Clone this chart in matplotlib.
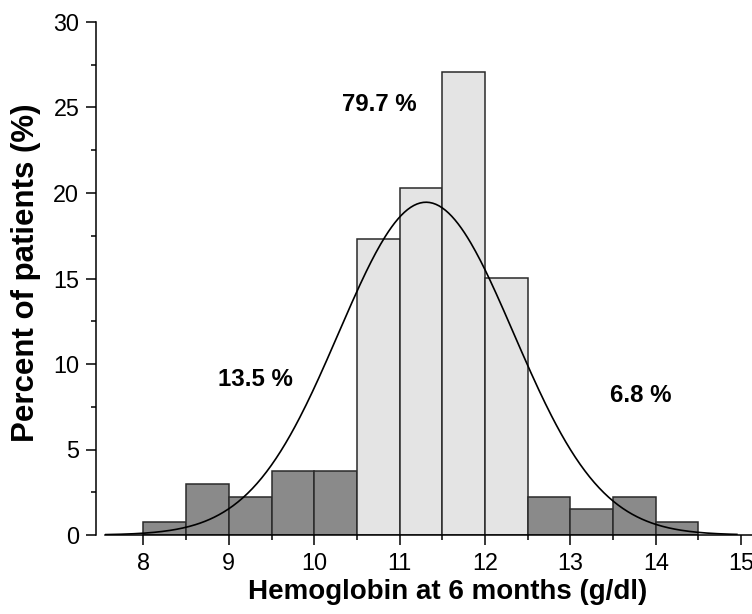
import numpy as np
import matplotlib
matplotlib.use("Agg")
import matplotlib.pyplot as plt
from matplotlib.ticker import MultipleLocator

plt.rcParams['font.family'] = ['Liberation Sans', 'DejaVu Sans']

# histogram bins (g/dl) and percent of patients
bin_left = [8.0, 8.5, 9.0, 9.5, 10.0, 10.5, 11.0, 11.5, 12.0, 12.5, 13.0, 13.5, 14.0]
percent = [0.75, 3.0, 2.25, 3.75, 3.75, 17.3, 20.3, 27.07, 15.04, 2.25, 1.5, 2.25, 0.75]
in_range = [False, False, False, False, False, True, True, True, True, False, False, False, False]

# fitted normal curve
fit_mean = 11.31
fit_sd = 1.025
bin_width = 0.5

labels = ["13.5 %", "79.7 %", "6.8 %"]
label_x = [9.31, 10.76, 13.82]
label_y = [9.1, 25.2, 8.15]

fig = plt.figure(figsize=(7.52, 6.14), dpi=100)
ax = fig.add_axes([105 / 752, 79 / 614, 0.880, 513 / 614])

colors = ['#e4e4e4' if r else '#8a8a8a' for r in in_range]
ax.bar(bin_left, percent, width=bin_width, align='edge', color=colors,
       edgecolor='#2a2a2a', linewidth=1.1, zorder=2)

xs = np.linspace(7.55, 14.95, 400)
ys = 100 * bin_width * np.exp(-0.5 * ((xs - fit_mean) / fit_sd) ** 2) / (fit_sd * np.sqrt(2 * np.pi))
ax.plot(xs, ys, color='black', linewidth=1.2, zorder=3)

for t, x, y in zip(labels, label_x, label_y):
    ax.text(x, y, t, fontsize=17.3, fontweight='bold', ha='center', va='center')

ax.set_xlim(7.55, 15.3)
ax.set_ylim(0, 30)
ax.xaxis.set_major_locator(MultipleLocator(1))
ax.xaxis.set_minor_locator(MultipleLocator(0.5))
ax.yaxis.set_major_locator(MultipleLocator(5))
ax.yaxis.set_minor_locator(MultipleLocator(2.5))

ax.spines['top'].set_visible(False)
ax.spines['right'].set_visible(False)
ax.spines['left'].set_position(('outward', 6.5))
ax.spines['left'].set_linewidth(1.1)
ax.spines['bottom'].set_linewidth(1.1)

ax.tick_params(which='major', direction='out', length=7, width=1.1, labelsize=16.8, pad=5)
ax.tick_params(which='minor', direction='out', length=3.8, width=1.1)

ax.set_xlabel('Hemoglobin at 6 months (g/dl)', fontsize=20, fontweight='bold')
ax.xaxis.set_label_coords(0.518, -0.085)
ax.set_ylabel('Percent of patients (%)', fontsize=22.5, fontweight='bold')
ax.yaxis.set_label_coords(-0.097, 0.511)

fig.savefig('out.png', dpi=100)
